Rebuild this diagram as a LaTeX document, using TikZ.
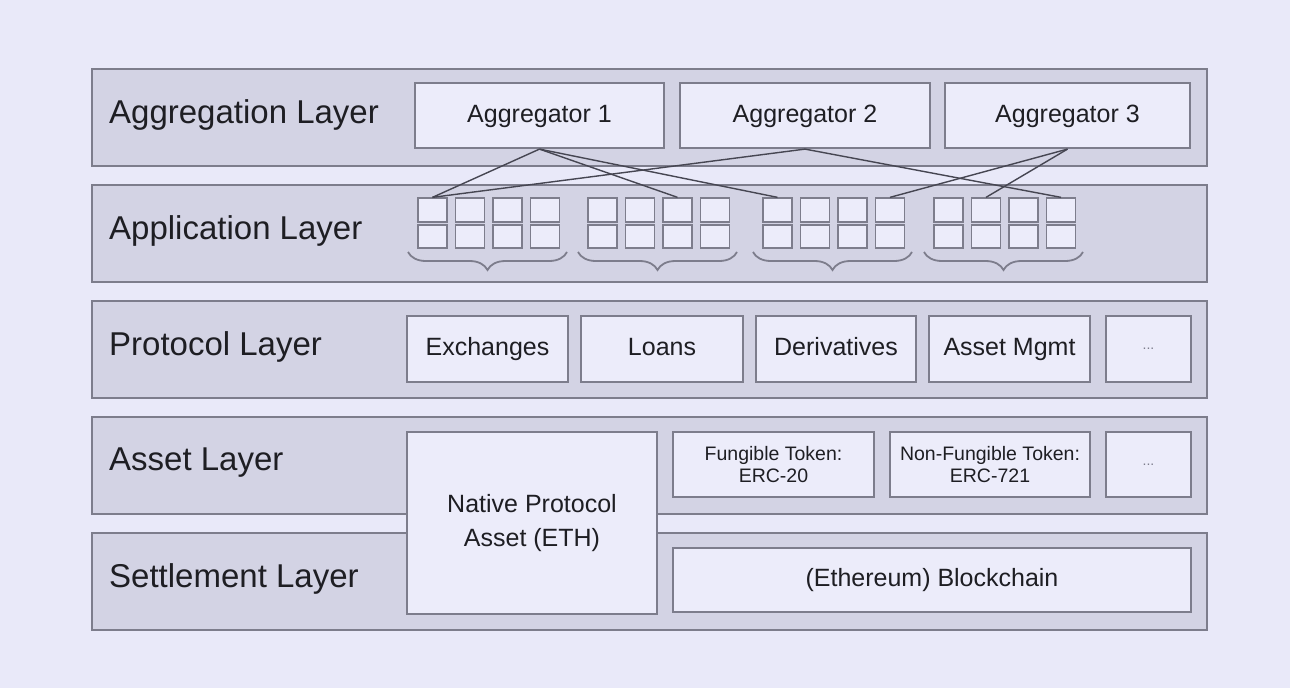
\documentclass[tikz,border=0pt]{standalone}
\usepackage{fontspec}
\setmainfont{Liberation Sans}
\usetikzlibrary{decorations.pathreplacing}
\definecolor{bg}{RGB}{233,233,249}
\definecolor{layerfill}{RGB}{211,211,228}
\definecolor{boxfill}{RGB}{236,236,250}
\definecolor{edge}{RGB}{125,125,140}
\definecolor{ink}{RGB}{30,30,35}
\definecolor{wire}{RGB}{70,70,82}
\tikzset{
  layer/.style={draw=edge, line width=2.6pt, fill=layerfill, minimum width=1115pt, minimum height=97pt, inner sep=0pt},
  lbl/.style={anchor=west, text=ink, font=\fontsize{33}{36}\selectfont, inner sep=0pt},
  box/.style={draw=edge, line width=2.2pt, fill=boxfill, inner sep=0pt, text=ink, font=\fontsize{25}{34}\selectfont, align=center},
  onebox/.style={box, text height=18pt, text depth=5pt},
  smallbox/.style={box, font=\fontsize{19.5}{22}\selectfont},
  dotbox/.style={box, font=\fontsize{14}{16}\selectfont, text=edge},
  sq/.style={draw=edge, line width=1.8pt, fill=boxfill, minimum width=29pt, minimum height=23.5pt, inner sep=0pt},
  wire/.style={draw=wire, line width=1.4pt},
  bracestyle/.style={draw=edge, line width=1.8pt, decorate, decoration={brace, mirror, amplitude=18pt, aspect=0.5}}
}
\begin{document}
\begin{tikzpicture}[x=1pt,y=-1pt]
\fill[bg] (0,0) rectangle (1290,688);
\useasboundingbox (0,0) rectangle (1290,688);
% layers
\node[layer] (Lagg) at (649.5,117.5) {};
\node[layer] (Lapp) at (649.5,233.5) {};
\node[layer] (Lpro) at (649.5,349.5) {};
\node[layer] (Lass) at (649.5,465.5) {};
\node[layer] (Lset) at (649.5,581.5) {};
\node[lbl] (tagg) at (109,115) {Aggregation Layer};
\node[lbl] (tapp) at (109,231) {Application Layer};
\node[lbl] (tpro) at (109,347) {Protocol Layer};
\node[lbl] (tass) at (109,463) {Asset Layer};
\node[lbl] (tset) at (109,579) {Settlement Layer};
% aggregators
\node[onebox, minimum width=249pt, minimum height=65pt] (agg1) at (539.5,115.5) {Aggregator 1};
\node[onebox, minimum width=250pt, minimum height=65pt] (agg2) at (805,115.5) {Aggregator 2};
\node[onebox, minimum width=245pt, minimum height=65pt] (agg3) at (1067.5,115.5) {Aggregator 3};
% application squares and braces
\foreach \g/\sx in {1/418,2/588,3/763,4/934} {
  \foreach \c in {1,...,4} {
    \node[sq] (sq\g1\c) at ({\sx+14.5+(\c-1)*37.5},210) {};
    \node[sq] (sq\g2\c) at ({\sx+14.5+(\c-1)*37.5},236.5) {};
  }
  \draw[bracestyle] ({\sx-10},252) -- ({\sx+149},252);
}
% wires
\draw[wire] (agg1.south) -- (sq111.north);
\draw[wire] (agg1.south) -- (sq213.north);
\draw[wire] (agg1.south) -- (sq311.north);
\draw[wire] (agg2.south) -- (sq111.north);
\draw[wire] (agg2.south) -- (sq414.north);
\draw[wire] (agg3.south) -- (sq314.north);
\draw[wire] (agg3.south) -- (sq412.north);
% protocol layer
\node[onebox, minimum width=161pt, minimum height=66pt] (exch) at (487.5,349) {Exchanges};
\node[onebox, minimum width=162pt, minimum height=66pt] (loans) at (662,349) {Loans};
\node[onebox, minimum width=160pt, minimum height=66pt] (deriv) at (836,349) {Derivatives};
\node[onebox, minimum width=161pt, minimum height=66pt] (amgmt) at (1009.5,349) {Asset Mgmt};
\node[dotbox, minimum width=85pt, minimum height=66pt] (pdots) at (1148.5,349) {...};
% asset layer
\node[smallbox, minimum width=201pt, minimum height=65pt] (ft) at (773.5,464.5) {Fungible Token:\\ERC-20};
\node[smallbox, minimum width=200pt, minimum height=65pt] (nft) at (990,464.5) {Non-Fungible Token:\\ERC-721};
\node[dotbox, minimum width=85pt, minimum height=65pt] (adots) at (1148.5,464.5) {...};
% settlement layer
\node[onebox, minimum width=518pt, minimum height=64pt] (chain) at (932,580) {(Ethereum) Blockchain};
% native asset spanning both
\node[box, minimum width=250pt, minimum height=182pt] (eth) at (532,523) {Native Protocol\\Asset (ETH)};
\end{tikzpicture}
\end{document}
